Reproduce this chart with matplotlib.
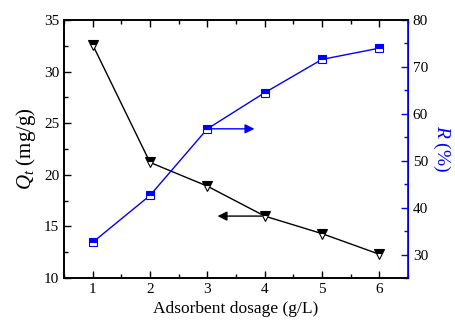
import matplotlib

matplotlib.use("Agg")

import matplotlib.pyplot as plt
from matplotlib.ticker import MultipleLocator

# Data
dosage = [1, 2, 3, 4, 5, 6]
q_t = [32.6, 21.2, 18.9, 16.0, 14.3, 12.3]
removal = [32.6, 42.6, 56.8, 64.5, 71.6, 74.0]

BLUE = "#0000ff"

plt.rcParams["font.family"] = ["Liberation Serif", "DejaVu Serif"]
plt.rcParams["mathtext.fontset"] = "custom"
plt.rcParams["mathtext.it"] = "Liberation Serif:italic"
plt.rcParams["mathtext.rm"] = "Liberation Serif"

fig = plt.figure(figsize=(4.55, 3.26), dpi=100)
ax = fig.add_axes([64 / 455, 1 - 278 / 326, 344 / 455, 258 / 326])
ax2 = ax.twinx()

ax.plot(dosage, q_t, color="black", lw=1.0, marker="v", ms=7, mfc="black",
        mec="black", fillstyle="top", markerfacecoloralt="white", mew=0.8)
ax2.plot(dosage, removal, color=BLUE, lw=1.0, marker="s", ms=6, mfc=BLUE,
         mec=BLUE, fillstyle="top", markerfacecoloralt="white", mew=0.8)

ax.annotate("", xy=(3.13, 16.0), xytext=(4.0, 16.0),
            arrowprops=dict(arrowstyle="-|>", color="black", lw=1.0, mutation_scale=14))
ax2.annotate("", xy=(3.87, 56.8), xytext=(3.0, 56.8),
             arrowprops=dict(arrowstyle="-|>", color=BLUE, lw=1.0, mutation_scale=14))

ax.set_xlim(0.5, 6.5)
ax.set_ylim(10, 35)
ax2.set_ylim(25, 80)

ax.xaxis.set_major_locator(MultipleLocator(1))
ax.xaxis.set_minor_locator(MultipleLocator(0.5))
ax.yaxis.set_major_locator(MultipleLocator(5))
ax.yaxis.set_minor_locator(MultipleLocator(2.5))
ax2.yaxis.set_major_locator(MultipleLocator(10))
ax2.yaxis.set_minor_locator(MultipleLocator(5))

ax.tick_params(axis="both", which="both", direction="in", top=True, labelsize=11)
ax.tick_params(which="major", length=5, width=1)
ax.tick_params(which="minor", length=3, width=1)
ax.tick_params(axis="y", right=False)
ax2.tick_params(axis="y", which="both", direction="in", colors=BLUE, labelcolor="black", labelsize=11)
ax2.tick_params(which="major", length=5, width=1)
ax2.tick_params(which="minor", length=3, width=1)

for side in ["left", "bottom", "top"]:
    ax.spines[side].set_linewidth(1.2)
ax2.spines["right"].set_color(BLUE)
ax2.spines["right"].set_linewidth(1.2)
ax2.spines["left"].set_linewidth(1.2)
ax2.spines["top"].set_linewidth(1.2)
ax2.spines["bottom"].set_linewidth(1.2)

ax.set_xlabel("Adsorbent dosage (g/L)", fontsize=12.5)
ax.set_ylabel("$Q_t$ (mg/g)", fontsize=15)
ax2.set_ylabel("$R$ (%)", fontsize=14, color=BLUE, rotation=270, labelpad=17)

fig.savefig("out.png", dpi=100)
